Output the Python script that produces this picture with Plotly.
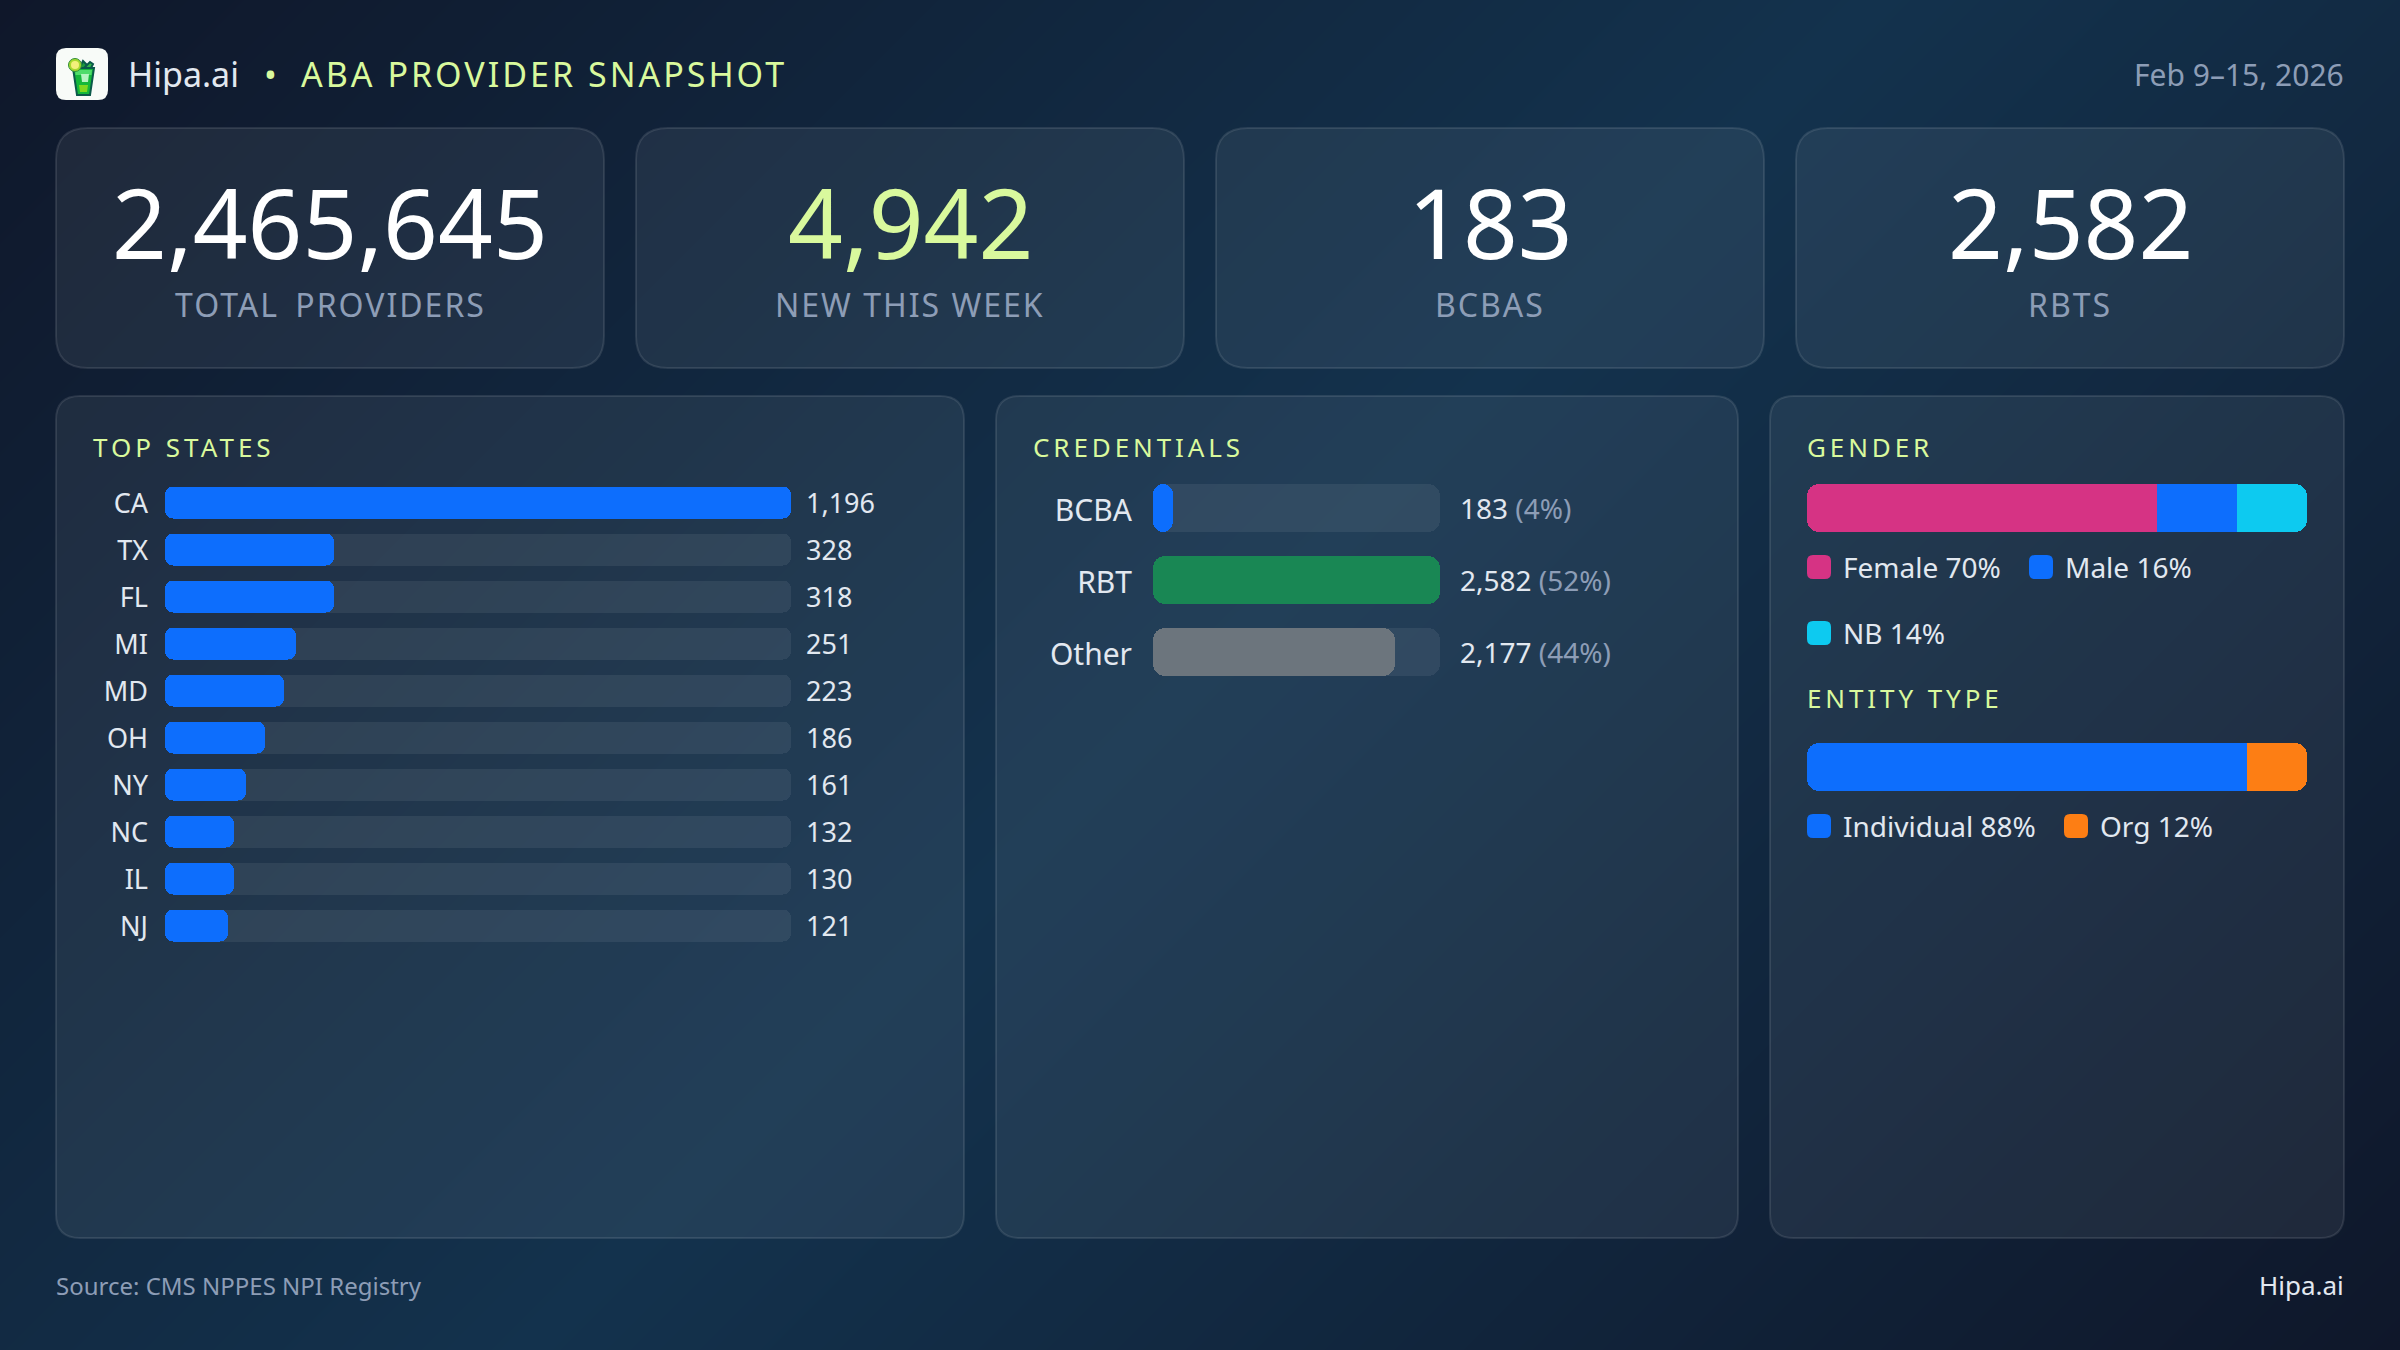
"""
ABA provider snapshot card, Hipa.ai
"""
import base64
import struct
import zlib
import numpy as np
import plotly.graph_objects as go

W, H = 2400, 1350

# -- data ---------------------------------------------------------------------
kpi_values = ["2,465,645", "4,942", "183", "2,582"]
kpi_labels = ["TOTAL PROVIDERS", "NEW THIS WEEK", "BCBAS", "RBTS"]

state_names = ["CA", "TX", "FL", "MI", "MD", "OH", "NY", "NC", "IL", "NJ"]
state_values = [1196, 328, 318, 251, 223, 186, 161, 132, 130, 121]
state_fill_pct = [100, 27, 27, 21, 19, 16, 13, 11, 11, 10]   # as drawn, whole percents of CA

cred_names = ["BCBA", "RBT", "Other"]
cred_values = [183, 2582, 2177]
cred_share = [4, 52, 44]

gender_names = ["Female", "Male", "NB"]
gender_pct = [70, 16, 14]
entity_names = ["Individual", "Org"]
entity_pct = [88, 12]

# -- colours ------------------------------------------------------------------
LIME = "#d9f99d"
TEXT = "#e2e8f0"
MUTED = "#8d9db6"
TRACK = "rgba(255,255,255,0.07)"
BLUE = "#0d6efd"
cred_colors = [BLUE, "#198754", "#6c757d"]
gender_colors = ["#d63384", BLUE, "#0dcaf0"]
entity_colors = [BLUE, "#fd7e14"]
FONT = "Noto Sans"


def px(x):
    return x / W


def py(y):
    return 1 - y / H


def rounded(x0, y0, x1, y1, r):
    # rounded rectangle in paper coords, sizes in pixels
    pts = [
        f"M{px(x0 + r)},{py(y0)}", f"L{px(x1 - r)},{py(y0)}",
        f"Q{px(x1)},{py(y0)} {px(x1)},{py(y0 + r)}", f"L{px(x1)},{py(y1 - r)}",
        f"Q{px(x1)},{py(y1)} {px(x1 - r)},{py(y1)}", f"L{px(x0 + r)},{py(y1)}",
        f"Q{px(x0)},{py(y1)} {px(x0)},{py(y1 - r)}", f"L{px(x0)},{py(y0 + r)}",
        f"Q{px(x0)},{py(y0)} {px(x0 + r)},{py(y0)}", "Z",
    ]
    return " ".join(pts)


def box(x0, y0, x1, y1, r, fill, line=None):
    return dict(type="path", xref="paper", yref="paper", path=rounded(x0, y0, x1, y1, r),
                fillcolor=fill, line=dict(color=line or "rgba(0,0,0,0)", width=2 if line else 0),
                layer="below")


def poly(points, fill, line=None):
    path = "M" + " L".join(f"{px(x)},{py(y)}" for x, y in points) + " Z"
    return dict(type="path", xref="paper", yref="paper", layer="below", path=path, fillcolor=fill,
                line=dict(color=line or "rgba(0,0,0,0)", width=2 if line else 0))


def dot(x, y, r, fill, line=None):
    return dict(type="circle", xref="paper", yref="paper", layer="below",
                x0=px(x - r), x1=px(x + r), y0=py(y + r), y1=py(y - r), fillcolor=fill,
                line=dict(color=line or "rgba(0,0,0,0)", width=1 if line else 0))


def label(x, y, text, size, color, anchor="left", spacing=None, word=None):
    if spacing:
        style = f"letter-spacing:{spacing}px"
        if word:
            style += f";word-spacing:{word}px"
        text = f'<span style="{style}">{text}</span>'
    return dict(x=px(x), y=py(y), xref="paper", yref="paper", text=text, showarrow=False,
                xanchor=anchor, yanchor="middle", align=anchor,
                font=dict(family=FONT, size=size, color=color), borderpad=0, borderwidth=0)


def gradient_png():
    # page background, 135deg
    xx, yy = np.meshgrid(np.arange(W), np.arange(H))
    t = (xx + yy) / (W + H)
    t = 1 - np.abs(2 * t - 1)
    ends = np.array([15, 23, 42])
    mid = np.array([19, 50, 77])
    img = (ends + (mid - ends) * t[..., None]).round().astype(np.uint8)
    raw = b"".join(b"\x00" + row.tobytes() for row in img)

    def chunk(tag, data):
        return struct.pack(">I", len(data)) + tag + data + struct.pack(">I", zlib.crc32(tag + data))

    png = b"\x89PNG\r\n\x1a\n" + chunk(b"IHDR", struct.pack(">IIBBBBB", W, H, 8, 2, 0, 0, 0))
    png += chunk(b"IDAT", zlib.compress(raw, 9)) + chunk(b"IEND", b"")
    return "data:image/png;base64," + base64.b64encode(png).decode()


fig = go.Figure()

# -- top states ---------------------------------------------------------------
fig.add_trace(go.Bar(y=state_names, x=[100] * len(state_names), base=[0] * len(state_names),
                     orientation="h", width=32 / 47, xaxis="x", yaxis="y", hoverinfo="skip",
                     marker=dict(color=TRACK, cornerradius=8, line_width=0)))
fig.add_trace(go.Bar(y=state_names, x=state_fill_pct, base=[0] * len(state_names),
                     orientation="h", width=32 / 47, xaxis="x", yaxis="y", hoverinfo="skip",
                     marker=dict(color=BLUE, cornerradius=8, line_width=0)))

# -- credentials --------------------------------------------------------------
fig.add_trace(go.Bar(y=cred_names, x=[max(cred_values)] * 3, base=[0] * 3,
                     orientation="h", width=48 / 72, xaxis="x2", yaxis="y2", hoverinfo="skip",
                     marker=dict(color=TRACK, cornerradius=12, line_width=0)))
fig.add_trace(go.Bar(y=cred_names, x=cred_values, base=[0] * 3,
                     orientation="h", width=48 / 72, xaxis="x2", yaxis="y2", hoverinfo="skip",
                     marker=dict(color=cred_colors, cornerradius=12, line_width=0)))


def add_strip(names, pcts, colors, xaxis, yaxis):
    # 100% strip: only the two outer ends are rounded
    start = 0
    for i, (name, p, c) in enumerate(zip(names, pcts, colors)):
        outer = i == 0 or i == len(pcts) - 1
        common = dict(y=["all"], orientation="h", width=1, xaxis=xaxis, yaxis=yaxis,
                      hoverinfo="skip", name=name)
        fig.add_trace(go.Bar(x=[p], base=[start], **common,
                             marker=dict(color=c, cornerradius=12 if outer else 0, line_width=0)))
        if outer:
            # square off the inner end
            inner = start + p / 2 if i == 0 else start
            fig.add_trace(go.Bar(x=[p / 2], base=[inner], **common,
                                 marker=dict(color=c, line_width=0)))
        start += p


add_strip(gender_names, gender_pct, gender_colors, "x3", "y3")
add_strip(entity_names, entity_pct, entity_colors, "x4", "y4")

# -- shapes and text ----------------------------------------------------------
shapes = []
notes = []
BORDER = "rgba(255,255,255,0.10)"
PANEL = "rgba(255,255,255,0.065)"

# logo
shapes.append(box(56, 48, 108, 100, 10, "#f8fbf8"))
shapes.append(poly([(80, 67), (83, 61), (87, 65), (84, 70)], "#1c9a3e", "#0b5a4a"))
shapes.append(poly([(84, 68), (90, 62), (93, 64), (90, 70)], "#35b54a", "#0b5a4a"))
shapes.append(poly([(73, 68), (94, 68), (90, 95), (77, 95)], "#14b83a", "#0b5a4a"))
shapes.append(poly([(75, 70), (92, 70), (91.5, 75), (75.5, 75)], "#4fdc6a"))
shapes.append(poly([(81, 74), (89, 74), (88, 82), (82, 82)], "#b5f5c0"))
shapes.append(poly([(79, 85), (88, 85), (87, 92), (80, 92)], "#7fd81f"))
shapes.append(dot(75, 65, 6.5, "#a7d92e", "#2f8f3a"))
shapes.append(dot(75, 65, 4, "#f3f07a"))

# kpi cards
for i, (val, lab) in enumerate(zip(kpi_values, kpi_labels)):
    x0 = 56 + i * 580
    shapes.append(box(x0, 128, x0 + 548, 368, 32, PANEL, BORDER))
    notes.append(label(x0 + 274, 221.5, val, 96, LIME if i == 1 else "#ffffff", "center"))
    notes.append(label(x0 + 274, 305, lab, 32, MUTED, "center", spacing=2, word=6 if i == 0 else None))

# panels
for x0, x1 in [(56, 964), (996, 1738), (1770, 2344)]:
    shapes.append(box(x0, 396, x1, 1238, 24, PANEL, BORDER))

# header and footer
notes.append(label(128, 74, "Hipa.ai", 34, TEXT))
notes.append(label(270, 74, "•", 34, LIME, "center"))
notes.append(label(301, 74, "ABA PROVIDER SNAPSHOT", 34, LIME, spacing=3))
notes.append(label(2344, 74, "Feb 9–15, 2026", 30, MUTED, "right"))
notes.append(label(56, 1285, "Source: CMS NPPES NPI Registry", 24, MUTED))
notes.append(label(2344, 1285, "Hipa.ai", 26, TEXT, "right"))

# section titles
notes.append(label(93, 447, "TOP STATES", 26, LIME, spacing=4))
notes.append(label(1033, 447, "CREDENTIALS", 26, LIME, spacing=3.9))
notes.append(label(1807, 447, "GENDER", 26, LIME, spacing=3.9))
notes.append(label(1807, 698, "ENTITY TYPE", 26, LIME, spacing=3.9))

# value labels next to the tracks
for name, v in zip(state_names, state_values):
    notes.append(dict(x=100, y=name, xref="x", yref="y", xanchor="left", yanchor="middle", xshift=13,
                      text=f"{v:,}", showarrow=False, font=dict(family=FONT, size=27, color=TEXT)))
for name, v, s in zip(cred_names, cred_values, cred_share):
    notes.append(dict(x=max(cred_values), y=name, xref="x2", yref="y2", xanchor="left", yanchor="middle",
                      xshift=18, showarrow=False, font=dict(family=FONT, size=28, color=TEXT),
                      text=f'{v:,} <span style="color:{MUTED}">({s}%)</span>'))


def legend_entry(x, y, name, p, color):
    shapes.append(box(x, y - 12, x + 24, y + 12, 6, color))
    notes.append(label(x + 36, y, f"{name} {p}%", 28, TEXT))


legend_entry(1807, 567, gender_names[0], gender_pct[0], gender_colors[0])
legend_entry(2029, 567, gender_names[1], gender_pct[1], gender_colors[1])
legend_entry(1807, 633, gender_names[2], gender_pct[2], gender_colors[2])
legend_entry(1807, 826, entity_names[0], entity_pct[0], entity_colors[0])
legend_entry(2064, 826, entity_names[1], entity_pct[1], entity_colors[1])

hidden = dict(visible=False, fixedrange=True)


def x_axis(x0, x1, top):
    return dict(hidden, domain=[px(x0), px(x1)], range=[0, top])


def cat_axis(y0, y1, x_id, size=0, standoff=0):
    ax = dict(domain=[py(y1), py(y0)], anchor=x_id, autorange="reversed", type="category",
              showgrid=False, zeroline=False, showline=False, ticks="", fixedrange=True)
    if size:
        ax.update(tickfont=dict(family=FONT, size=size, color=TEXT), ticklabelstandoff=standoff,
                  ticklabelshift=-2)
    else:
        ax.update(visible=False)
    return ax


fig.update_layout(
    width=W, height=H, margin=dict(l=0, r=0, t=0, b=0, pad=0),
    paper_bgcolor="#10203a", plot_bgcolor="rgba(0,0,0,0)",
    barmode="overlay", bargap=0, showlegend=False,
    font=dict(family=FONT),
    xaxis=x_axis(165, 791, 100),
    yaxis=cat_axis(478.5, 948.5, "x", 27, 16),
    xaxis2=x_axis(1153, 1440, max(cred_values)),
    yaxis2=cat_axis(472, 688, "x2", 30, 20),
    xaxis3=x_axis(1807, 2307, 100),
    yaxis3=cat_axis(484, 532, "x3"),
    xaxis4=x_axis(1807, 2307, 100),
    yaxis4=cat_axis(743, 791, "x4"),
    shapes=shapes,
    annotations=notes,
    images=[dict(source=gradient_png(), xref="paper", yref="paper", x=0, y=1, sizex=1, sizey=1,
                 sizing="stretch", xanchor="left", yanchor="top", layer="below")],
)

fig.write_html("out.html", config={"displayModeBar": False},
               post_script="document.body.style.margin='0';document.body.style.overflow='hidden';")
